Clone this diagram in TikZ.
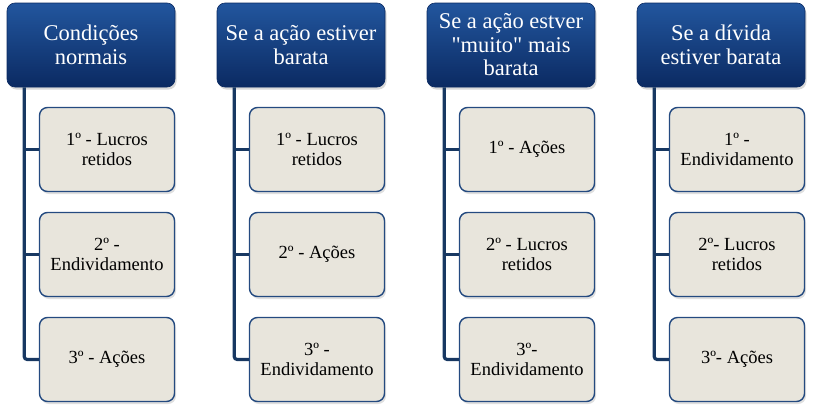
\documentclass[tikz,border=0pt]{standalone}
\usepackage{fontspec}
\setmainfont{Liberation Serif}[Ligatures=TeXOff]
\usetikzlibrary{shadows}
\definecolor{hdtop}{RGB}{34,86,158}
\definecolor{hdbot}{RGB}{11,42,98}
\definecolor{chfill}{RGB}{232,229,220}
\definecolor{chdraw}{RGB}{36,74,128}
\definecolor{conncol}{RGB}{24,56,98}
\tikzset{
  hdbox/.style={rounded corners=8pt, top color=hdtop, bottom color=hdbot, draw=hdbot, line width=0.6pt,
    minimum width=168pt, minimum height=84pt, inner sep=2pt, text=white, align=center,
    font=\fontsize{22.5}{23.5}\selectfont,
    drop shadow={shadow xshift=1.5pt, shadow yshift=-2.5pt, opacity=0.3}},
  chbox/.style={rounded corners=8pt, fill=chfill, draw=chdraw, line width=1.4pt,
    minimum width=135pt, minimum height=84pt, inner sep=2pt, align=center,
    font=\fontsize{18.5}{20.5}\selectfont,
    drop shadow={shadow xshift=1.5pt, shadow yshift=-2.5pt, opacity=0.25}},
  conn/.style={draw=conncol, line width=3.2pt, rounded corners=3pt}
}
\begin{document}
\begin{tikzpicture}[x=1pt,y=-1pt]
\useasboundingbox (0,0) rectangle (813,413);
% headers
\node[hdbox] (h1) at (91,45) {Condições\\normais};
\node[hdbox] (h2) at (301,45) {Se a ação estiver\\barata};
\node[hdbox] (h3) at (511,45) {Se a ação estver\\"muito" mais\\barata};
\node[hdbox] (h4) at (721,45) {Se a dívida\\estiver barata};
% connectors anchors
\foreach \k in {1,2,3,4} {
  \coordinate (t\k) at ([xshift=17.5pt]h\k.south west);
}
% children
\node[chbox] (c11) at (107,149.5) {1º - Lucros\\retidos};
\node[chbox] (c12) at (107,254.5) {2º -\\Endividamento};
\node[chbox] (c13) at (107,359.5) {3º - Ações};
\node[chbox] (c21) at (317,149.5) {1º - Lucros\\retidos};
\node[chbox] (c22) at (317,254.5) {2º - Ações};
\node[chbox] (c23) at (317,359.5) {3º -\\Endividamento};
\node[chbox] (c31) at (527,149.5) {1º - Ações};
\node[chbox] (c32) at (527,254.5) {2º - Lucros\\retidos};
\node[chbox] (c33) at (527,359.5) {3º-\\Endividamento};
\node[chbox] (c41) at (737,149.5) {1º -\\Endividamento};
\node[chbox] (c42) at (737,254.5) {2º- Lucros\\retidos};
\node[chbox] (c43) at (737,359.5) {3º- Ações};
% connectors
\foreach \k in {1,2,3,4} {
  \draw[conn] (t\k) |- (c\k3.west);
  \draw[conn] (c\k1.west) -- (c\k1.west -| t\k);
  \draw[conn] (c\k2.west) -- (c\k2.west -| t\k);
}
\end{tikzpicture}
\end{document}
